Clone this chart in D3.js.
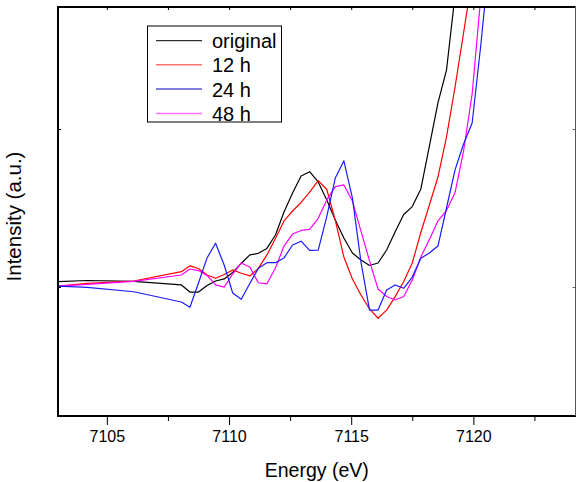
<!DOCTYPE html>
<html>
<head>
<meta charset="utf-8">
<script src="https://cdn.jsdelivr.net/npm/d3@7/dist/d3.min.js"></script>
<style>
  html, body { margin: 0; padding: 0; background: #fff; }
  svg { display: block; }
  text { font-family: "Liberation Sans", Arial, sans-serif; fill: #000; }
</style>
</head>
<body>
<svg id="chart" width="576" height="482"></svg>
<script>
// Photon energy grid (eV), shared by all scans
const energy = [
  7103.00, 7104.20, 7106.10,
  7108.05, 7108.40, 7108.75, 7109.10, 7109.45, 7109.80, 7110.15, 7110.50,
  7110.85, 7111.20, 7111.55, 7111.90, 7112.25, 7112.60, 7112.95, 7113.30,
  7113.65, 7114.00, 7114.35, 7114.70, 7115.05, 7115.40, 7115.75, 7116.10,
  7116.45, 7116.80, 7117.15, 7117.50, 7117.85, 7118.20, 7118.55, 7118.90,
  7119.25, 7119.60, 7119.95, 7120.30, 7120.65
];

// Normalised intensity (a.u.) for each sample
const original = [
  0.034, 0.041, 0.035,
  0.013, -0.032, -0.032, 0.009, 0.038, 0.051, 0.092, 0.149,
  0.203, 0.213, 0.244, 0.329, 0.475, 0.595, 0.703, 0.730,
  0.665, 0.551, 0.424, 0.310, 0.215, 0.171, 0.136, 0.152,
  0.234, 0.350, 0.459, 0.509, 0.620, 0.892, 1.165, 1.373,
  1.848, 2.196
];
const h12 = [
  0.006, 0.023, 0.038,
  0.097, 0.134, 0.117, 0.076, 0.055, 0.079, 0.108, 0.087,
  0.070, 0.118, 0.203, 0.307, 0.418, 0.481, 0.535, 0.601,
  0.673, 0.617, 0.421, 0.190, 0.051, -0.051, -0.139, -0.198,
  -0.146, -0.061, 0.035, 0.152, 0.345, 0.519, 0.696, 0.949,
  1.266, 1.608, 1.956
];
const h24 = [
  0.006, -0.002, -0.030,
  -0.095, -0.128, 0.025, 0.184, 0.277, 0.139, -0.038, -0.078,
  0.022, 0.118, 0.154, 0.154, 0.184, 0.266, 0.290, 0.232,
  0.234, 0.445, 0.690, 0.799, 0.563, 0.158, -0.146, -0.146,
  -0.019, 0.013, -0.008, 0.063, 0.182, 0.215, 0.259, 0.500,
  0.741, 0.905, 1.038, 1.525, 2.070
];
const h48 = [
  0.006, 0.016, 0.035,
  0.076, 0.114, 0.104, 0.073, 0.013, -0.001, 0.082, 0.152,
  0.127, 0.027, 0.020, 0.120, 0.259, 0.335, 0.358, 0.365,
  0.435, 0.551, 0.635, 0.646, 0.544, 0.354, 0.165, -0.013,
  -0.060, -0.082, -0.060, 0.044, 0.190, 0.301, 0.418, 0.484,
  0.598, 0.861, 1.222, 1.829
];

const seriesNames = ["original", "12 h", "24 h", "48 h"];
const seriesColors = ["#000000", "#ff0000", "#1a1aff", "#ff00ff"];
const legendColors = ["#000000", "#ff7070", "#0000c8", "#ff70ff"];
const seriesValues = [original, h12, h24, h48];

const majorTicks = [7105, 7110, 7115, 7120];
const minorTicks = [7107.5, 7112.5, 7117.5, 7122.5];
const yTicks = [0, 1];

const svg = d3.select("#chart");
const plotLeft = 58, plotRight = 575.5, plotTop = 7, plotBottom = 416;

const x = d3.scaleLinear().domain([7103, 7124.18]).range([plotLeft, plotRight]);
const y = d3.scaleLinear().domain([-0.8165, 1.7722]).range([plotBottom, plotTop]);

svg.append("defs").append("clipPath").attr("id", "plot-clip")
  .append("rect")
  .attr("x", plotLeft).attr("y", plotTop)
  .attr("width", plotRight - plotLeft).attr("height", plotBottom - plotTop);

// Curves
const line = d3.line()
  .x(d => x(d[0]))
  .y(d => y(d[1]));

const curves = svg.append("g").attr("clip-path", "url(#plot-clip)");
// draw order: original, 12 h, 48 h, 24 h
[0, 1, 3, 2].forEach(k => {
  const pts = seriesValues[k].map((v, i) => [energy[i], v]);
  curves.append("path")
    .datum(pts)
    .attr("fill", "none")
    .attr("stroke", seriesColors[k])
    .attr("stroke-width", 1.2)
    .attr("stroke-linejoin", "round")
    .attr("d", line);
});

// Bottom axis: outward ticks with labels
const xAxis = d3.axisBottom(x).tickValues(majorTicks).tickSize(9).tickPadding(6)
  .tickFormat(d3.format("d"));
const gx = svg.append("g").attr("transform", `translate(0,${plotBottom})`).call(xAxis);
gx.select(".domain").remove();
gx.selectAll(".tick line").attr("stroke", "#000").attr("stroke-width", 1);
gx.selectAll(".tick text").style("font-size", "16px")
  .style("font-family", "'Liberation Sans', Arial, sans-serif").attr("fill", "#000");

const gxm = svg.append("g").attr("transform", `translate(0,${plotBottom})`)
  .call(d3.axisBottom(x).tickValues(minorTicks).tickSize(5).tickFormat(""));
gxm.select(".domain").remove();
gxm.selectAll(".tick line").attr("stroke", "#000");

// Top axis: small inward ticks
const gt = svg.append("g").attr("transform", `translate(0,${plotTop})`)
  .call(d3.axisBottom(x).tickValues(majorTicks.concat(minorTicks)).tickSize(3).tickFormat(""));
gt.select(".domain").remove();
gt.selectAll(".tick line").attr("stroke", "#000");

// Left / right axes: inward ticks, no labels
const gl = svg.append("g").attr("transform", `translate(${plotLeft},0)`)
  .call(d3.axisRight(y).tickValues(yTicks).tickSize(3).tickFormat(""));
gl.select(".domain").remove();
gl.selectAll(".tick line").attr("stroke", "#000");
const gr = svg.append("g").attr("transform", `translate(${plotRight},0)`)
  .call(d3.axisLeft(y).tickValues(yTicks).tickSize(3).tickFormat(""));
gr.select(".domain").remove();
gr.selectAll(".tick line").attr("stroke", "#666");

// Frame
svg.append("line").attr("x1", plotLeft).attr("x2", plotRight).attr("y1", plotTop).attr("y2", plotTop)
  .attr("stroke", "#000").attr("stroke-width", 2);
svg.append("line").attr("x1", plotLeft).attr("x2", plotRight + 0.5).attr("y1", plotBottom).attr("y2", plotBottom)
  .attr("stroke", "#000").attr("stroke-width", 2);
svg.append("line").attr("x1", plotLeft).attr("x2", plotLeft).attr("y1", plotTop - 1).attr("y2", plotBottom + 1)
  .attr("stroke", "#000").attr("stroke-width", 2);
svg.append("line").attr("x1", plotRight).attr("x2", plotRight).attr("y1", plotTop).attr("y2", plotBottom)
  .attr("stroke", "#555").attr("stroke-width", 1);

// Axis titles
svg.append("text")
  .attr("x", (plotLeft + plotRight) / 2).attr("y", 476.5)
  .attr("text-anchor", "middle")
  .style("font-size", "19.5px")
  .text("Energy (eV)");

svg.append("text")
  .attr("transform", `translate(21,216.5) rotate(-90)`)
  .attr("text-anchor", "middle")
  .style("font-size", "20.5px")
  .text("Intensity (a.u.)");

// Legend
const legend = svg.append("g");
legend.append("rect")
  .attr("x", 147.5).attr("y", 26).attr("width", 134).attr("height", 96)
  .attr("fill", "#fff").attr("stroke", "#000").attr("stroke-width", 1);
const rowY = [40.7, 64.7, 89, 113.5];
seriesNames.forEach((name, k) => {
  legend.append("line")
    .attr("x1", 156).attr("x2", 202)
    .attr("y1", rowY[k]).attr("y2", rowY[k])
    .attr("stroke", legendColors[k]).attr("stroke-width", k === 0 || k === 2 ? 1 : 1.6);
  legend.append("text")
    .attr("x", 212).attr("y", rowY[k] + 7.5)
    .style("font-size", "20px")
    .text(name);
});
</script>
</body>
</html>
